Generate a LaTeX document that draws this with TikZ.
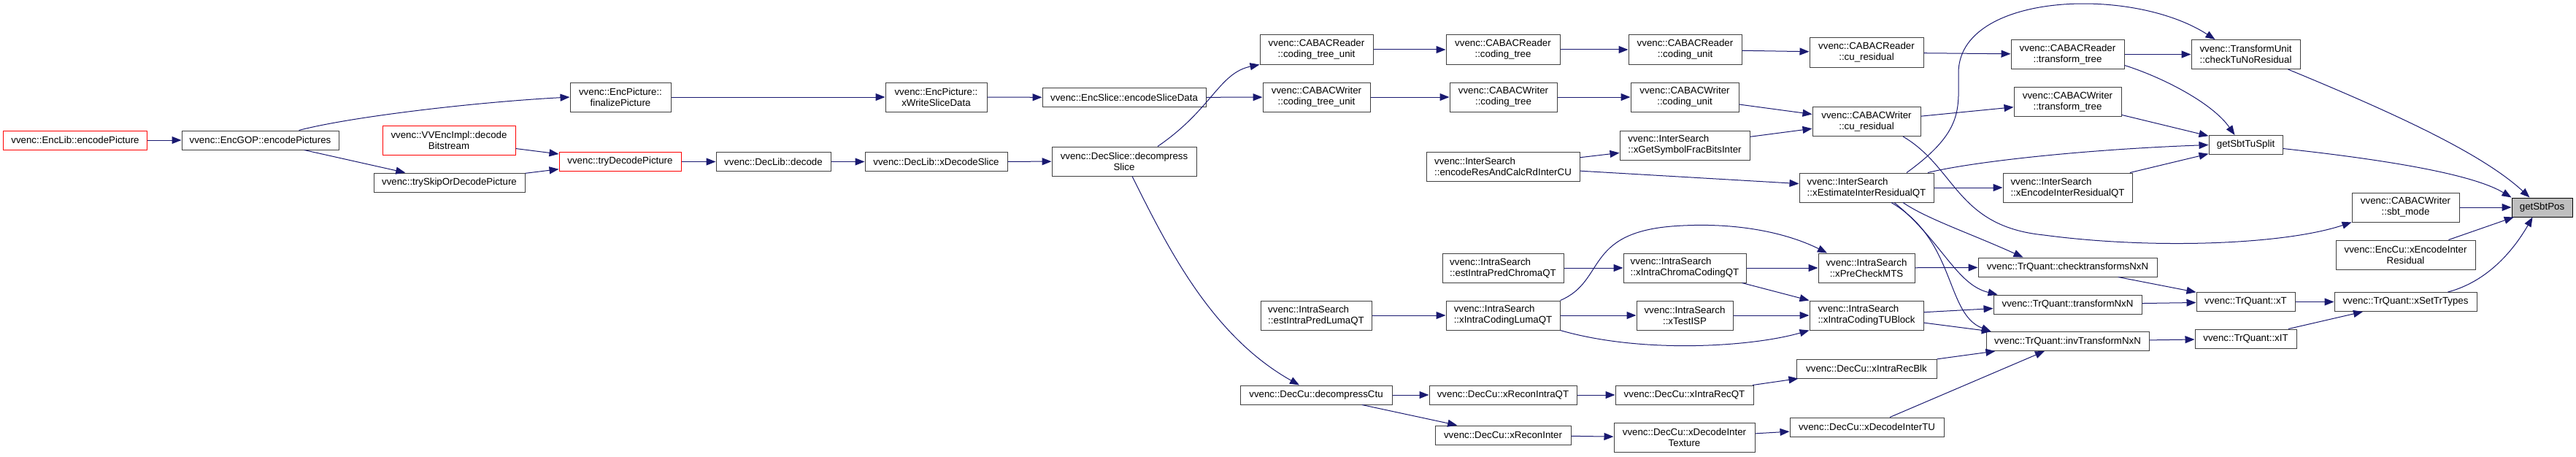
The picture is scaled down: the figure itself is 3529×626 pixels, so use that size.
\documentclass[tikz,border=0pt]{standalone}
\usepackage{fontspec}
\setmainfont{Liberation Sans}
\usetikzlibrary{arrows.meta}
\definecolor{edgeblue}{RGB}{25,25,112}

\begin{document}
\begin{tikzpicture}[x=1pt, y=-1pt,
    fn/.style={draw=black!75, line width=1pt, fill=white, inner sep=0pt,
        minimum height=26pt, font=\fontsize{13.3}{15}\selectfont},
    two/.style={minimum height=40pt},
    trunc/.style={draw=red},
    cur/.style={draw=black, fill=black!25},
    call/.style={edgeblue, line width=1pt, -{Triangle[length=13pt,width=10pt]}}]
    \useasboundingbox (0,0) rectangle (3529,626);

    % Encoder / decoder entry points
    \node[fn, trunc, minimum width=197pt] (enclib) at (103,192) {vvenc::EncLib::encodePicture};
    \node[fn, minimum width=215pt] (encgop) at (356.5,192) {vvenc::EncGOP::encodePictures};
    \node[fn, two, trunc, align=center, minimum width=182pt] (vvencimpl) at (615,192) {vvenc::VVEncImpl::decode\\Bitstream};
    \node[fn, minimum width=207pt] (tryskip) at (615.5,250) {vvenc::trySkipOrDecodePicture};
    \node[fn, two, align=center, minimum width=138pt] (finalize) at (850,133) {vvenc::EncPicture::\\finalizePicture};
    \node[fn, trunc, minimum width=167pt] (trydecode) at (849.5,221.5) {vvenc::tryDecodePicture};
    \node[fn, minimum width=157pt] (decode) at (1059.5,221.5) {vvenc::DecLib::decode};
    \node[fn, two, align=center, minimum width=139pt] (xwrite) at (1282.5,133) {vvenc::EncPicture::\\xWriteSliceData};
    \node[fn, minimum width=195pt] (xdecslice) at (1282.5,221.5) {vvenc::DecLib::xDecodeSlice};
    \node[fn, minimum width=224pt] (encslice) at (1540,133.5) {vvenc::EncSlice::encodeSliceData};
    \node[fn, two, align=center, minimum width=198pt] (decompslice) at (1540,221) {vvenc::DecSlice::decompress\\Slice};

    % CABAC reader / writer
    \node[fn, two, align=center, minimum width=155pt] (rctu) at (1803.5,68) {vvenc::CABACReader\\::coding\_tree\_unit};
    \node[fn, two, align=center, minimum width=147pt] (wctu) at (1803.5,133) {vvenc::CABACWriter\\::coding\_tree\_unit};
    \node[fn, two, align=center, minimum width=156pt] (rtree) at (2059,68) {vvenc::CABACReader\\::coding\_tree};
    \node[fn, two, align=center, minimum width=147pt] (wtree) at (2059.5,133) {vvenc::CABACWriter\\::coding\_tree};
    \node[fn, two, align=center, minimum width=155pt] (runit) at (2308.5,68) {vvenc::CABACReader\\::coding\_unit};
    \node[fn, two, align=center, minimum width=148pt] (wunit) at (2308,133) {vvenc::CABACWriter\\::coding\_unit};
    \node[fn, two, align=center, minimum width=156pt] (rcures) at (2557,72) {vvenc::CABACReader\\::cu\_residual};
    \node[fn, two, align=center, minimum width=148pt] (wcures) at (2557,166.5) {vvenc::CABACWriter\\::cu\_residual};
    \node[fn, two, align=center, minimum width=155pt] (rtt) at (2832.5,74.5) {vvenc::CABACReader\\::transform\_tree};
    \node[fn, two, align=center, minimum width=147pt] (wtt) at (2832.5,139.5) {vvenc::CABACWriter\\::transform\_tree};

    % Inter search
    \node[fn, two, align=left, minimum width=210pt] (encres) at (2059,228) {vvenc::InterSearch\\::encodeResAndCalcRdInterCU};
    \node[fn, two, align=left, minimum width=178pt] (symfrac) at (2308,199) {vvenc::InterSearch\\::xGetSymbolFracBitsInter};
    \node[fn, two, align=left, minimum width=184pt] (estres) at (2557,257) {vvenc::InterSearch\\::xEstimateInterResidualQT};
    \node[fn, two, align=left, minimum width=177pt] (encinterres) at (2832.5,257) {vvenc::InterSearch\\::xEncodeInterResidualQT};

    % Intra search
    \node[fn, two, align=left, minimum width=152pt] (estluma) at (1803,432) {vvenc::IntraSearch\\::estIntraPredLumaQT};
    \node[fn, two, align=left, minimum width=166pt] (estchroma) at (2059,367) {vvenc::IntraSearch\\::estIntraPredChromaQT};
    \node[fn, two, align=left, minimum width=156pt] (lumaqt) at (2059,432) {vvenc::IntraSearch\\::xIntraCodingLumaQT};
    \node[fn, two, align=left, minimum width=168pt] (chromaqt) at (2308,367) {vvenc::IntraSearch\\::xIntraChromaCodingQT};
    \node[fn, two, align=center, minimum width=132pt] (testisp) at (2308,432) {vvenc::IntraSearch\\::xTestISP};
    \node[fn, two, align=center, minimum width=132pt] (precheck) at (2557,367) {vvenc::IntraSearch\\::xPreCheckMTS};
    \node[fn, two, align=left, minimum width=156pt] (tublock) at (2557,432) {vvenc::IntraSearch\\::xIntraCodingTUBlock};

    % Decoder CU
    \node[fn, minimum width=208pt] (decctu) at (1803,541) {vvenc::DecCu::decompressCtu};
    \node[fn, minimum width=202pt] (reconintra) at (2059,541) {vvenc::DecCu::xReconIntraQT};
    \node[fn, minimum width=186pt] (reconinter) at (2059,596) {vvenc::DecCu::xReconInter};
    \node[fn, minimum width=189pt] (intrarecqt) at (2307.5,541) {vvenc::DecCu::xIntraRecQT};
    \node[fn, two, align=center, minimum width=193pt] (intertex) at (2307.5,599.5) {vvenc::DecCu::xDecodeInter\\Texture};
    \node[fn, minimum width=192pt] (intrarecblk) at (2557,505) {vvenc::DecCu::xIntraRecBlk};
    \node[fn, minimum width=211pt] (intertu) at (2557.5,585) {vvenc::DecCu::xDecodeInterTU};

    % TrQuant
    \node[fn, minimum width=245pt] (checktrans) at (2832.5,366) {vvenc::TrQuant::checktransformsNxN};
    \node[fn, minimum width=203pt] (transnxn) at (2832.5,417) {vvenc::TrQuant::transformNxN};
    \node[fn, minimum width=223pt] (invtrans) at (2832.5,467.5) {vvenc::TrQuant::invTransformNxN};
    \node[fn, minimum width=135pt] (xt) at (3076.5,413.5) {vvenc::TrQuant::xT};
    \node[fn, minimum width=139pt] (xit) at (3076.5,464) {vvenc::TrQuant::xIT};
    \node[fn, minimum width=195pt] (xsettr) at (3295.5,413.5) {vvenc::TrQuant::xSetTrTypes};

    % Callers of getSbtPos
    \node[fn, two, align=left, minimum width=149pt] (checktu) at (3076.5,74.5) {vvenc::TransformUnit\\::checkTuNoResidual};
    \node[fn, minimum width=101pt] (sbttusplit) at (3076.5,198.5) {getSbtTuSplit};
    \node[fn, two, align=center, minimum width=147pt] (sbtmode) at (3295.5,284) {vvenc::CABACWriter\\::sbt\_mode};
    \node[fn, two, align=center, minimum width=191pt] (xencinter) at (3295.5,349) {vvenc::EncCu::xEncodeInter\\Residual};
    \node[fn, cur, minimum width=83pt] (sbtpos) at (3482.5,284) {getSbtPos};

    % Straight calls
    \foreach \a/\b in {enclib/encgop, encgop/tryskip, vvencimpl/trydecode, tryskip/trydecode,
        finalize/xwrite, xwrite/encslice, trydecode/decode, decode/xdecslice, xdecslice/decompslice,
        encslice/wctu, rctu/rtree, wctu/wtree, rtree/runit, wtree/wunit, runit/rcures, wunit/wcures,
        symfrac/wcures, encres/symfrac, encres/estres, rcures/rtt, wcures/wtt, estres/encinterres,
        rtt/checktu, wtt/sbttusplit, encinterres/sbttusplit, sbtmode/sbtpos, xencinter/sbtpos,
        estluma/lumaqt, estchroma/chromaqt, lumaqt/testisp, chromaqt/precheck, chromaqt/tublock,
        testisp/tublock, precheck/checktrans, tublock/transnxn, tublock/invtrans,
        checktrans/xt, transnxn/xt, invtrans/xit, xt/xsettr, xit/xsettr,
        decctu/reconintra, decctu/reconinter, reconintra/intrarecqt, reconinter/intertex,
        intrarecqt/intrarecblk, intertex/intertu, intrarecblk/invtrans, intertu/invtrans}
        \draw[call] (\a) -- (\b);

    % Curved calls
    \draw[call] ([xshift=53pt]encgop.north) .. controls (480,160) and (650,140) .. (finalize.west);
    \draw[call] ([xshift=46pt]decompslice.north) .. controls (1660,150) and (1670,100) .. (rctu.south west);
    \draw[call] ([xshift=11pt]decompslice.south) .. controls (1600,340) and (1660,460) .. ([xshift=-23pt]decctu.north);
    \draw[call] ([xshift=50pt]wcures.south) .. controls (2680,230) and (2680,310) .. (2800,322)
        .. controls (2950,342) and (3130,335) .. (sbtmode.south west);
    \draw[call] ([xshift=55pt]estres.north) .. controls (2690,180) and (2683,150) .. (2683,100)
        .. controls (2683,-10) and (2920,-20) .. ([xshift=-42pt]checktu.north);
    \draw[call] ([xshift=84pt]estres.north) .. controls (2700,222) and (2850,205) .. (sbttusplit.west);
    \draw[call] ([xshift=50pt]estres.south) .. controls (2640,300) and (2700,320) .. ([xshift=-61pt]checktrans.north);
    \draw[call] ([xshift=38pt]estres.south) .. controls (2660,330) and (2680,390) .. ([xshift=6pt]transnxn.north west);
    \draw[call] ([xshift=34pt]estres.south) .. controls (2680,330) and (2665,430) .. ([xshift=7pt]invtrans.north west);
    \draw[call] ([yshift=-15pt]rtt.east) .. controls (2960,105) and (3030,140) .. ([xshift=-15pt]sbttusplit.north);
    \draw[call] ([xshift=58pt]checktu.south) .. controls (3280,155) and (3400,210) .. ([xshift=-17pt]sbtpos.north);
    \draw[call] ([yshift=-5pt]sbttusplit.east) .. controls (3280,220) and (3390,240) .. (sbtpos.north west);
    \draw[call] ([xshift=58pt]xsettr.north) .. controls (3410,385) and (3445,340) .. ([xshift=-13pt]sbtpos.south);
    \draw[call] (lumaqt.north east) .. controls (2200,385) and (2170,320) .. (2290,310)
        .. controls (2380,303) and (2450,320) .. ([xshift=-54pt]precheck.north);
    \draw[call] (lumaqt.south east) .. controls (2250,485) and (2400,475) .. (tublock.south west);
\end{tikzpicture}
\end{document}
